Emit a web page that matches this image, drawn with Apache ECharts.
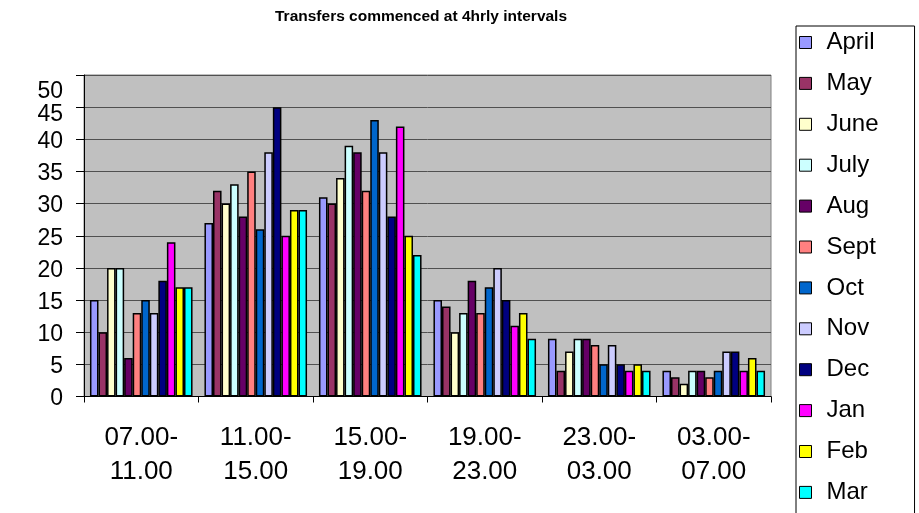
<!DOCTYPE html>
<html>
<head>
<meta charset="utf-8">
<title>Transfers commenced at 4hrly intervals</title>
<script src="https://cdn.jsdelivr.net/npm/echarts@6/dist/echarts.min.js"></script>
<style>
  html, body { margin: 0; padding: 0; background: #fff; }
  #chart { width: 919px; height: 513px; }
</style>
</head>
<body>
<div id="chart"></div>
<script>
// Four-hour intervals in which transfers commenced
const intervals = ['07.00-11.00', '11.00-15.00', '15.00-19.00', '19.00-23.00', '23.00-03.00', '03.00-07.00'];

// Month names shown in the legend
const months = ['April', 'May', 'June', 'July', 'Aug', 'Sept', 'Oct', 'Nov', 'Dec', 'Jan', 'Feb', 'Mar'];

// Transfers per interval, one array per month
const april = [15, 27, 31, 15, 9, 4];
const may   = [10, 32, 30, 14, 4, 3];
const june  = [20, 30, 34, 10, 7, 2];
const july  = [20, 33, 39, 13, 9, 4];
const aug   = [6, 28, 38, 18, 9, 4];
const sept  = [13, 35, 32, 13, 8, 3];
const oct   = [15, 26, 43, 17, 5, 4];
const nov   = [13, 38, 38, 20, 8, 7];
const dec   = [18, 45, 28, 15, 5, 7];
const jan   = [24, 25, 42, 11, 4, 4];
const feb   = [17, 29, 25, 13, 5, 6];
const mar   = [17, 29, 22, 9, 4, 4];

const monthValues = [april, may, june, july, aug, sept, oct, nov, dec, jan, feb, mar];

// Y axis tick values
const yTicks = [0, 5, 10, 15, 20, 25, 30, 35, 40, 45, 50];

const palette = ['#9999FF', '#993366', '#FFFFCC', '#CCFFFF', '#660066', '#FF8080',
                 '#0066CC', '#CCCCFF', '#000080', '#FF00FF', '#FFFF00', '#00FFFF'];

const FONT = '"Liberation Sans", Arial, sans-serif';

const chart = echarts.init(document.getElementById('chart'), null, { renderer: 'canvas' });

const series = months.map((name, i) => ({
  name: name,
  type: 'bar',
  data: monthValues[i],
  barGap: '0%',
  barCategoryGap: '10.4%',
  itemStyle: { color: palette[i], borderColor: '#000', borderWidth: 1.5 },
  emphasis: { disabled: true }
}));

chart.setOption({
  animation: false,
  backgroundColor: '#ffffff',
  title: {
    text: 'Transfers commenced at 4hrly intervals',
    left: 270,
    top: 4,
    textStyle: { fontFamily: FONT, fontWeight: 'bold', fontSize: 15.5, color: '#000' }
  },
  legend: {
    orient: 'vertical',
    left: 796,
    top: 26,
    height: 560,
    padding: [4.5, 36, 40, 3],
    itemGap: 16.9,
    itemWidth: 12,
    itemHeight: 12,
    icon: 'rect',
    borderColor: '#000',
    borderWidth: 1,
    backgroundColor: '#fff',
    selectedMode: false,
    itemStyle: { borderColor: '#000', borderWidth: 1 },
    textStyle: { fontFamily: FONT, fontSize: 24, lineHeight: 24, color: '#000', padding: [0, 0, 0, 10] },
    data: months
  },
  grid: {
    left: 84,
    top: 75,
    right: 148,
    bottom: 116.5,
    show: true,
    backgroundColor: '#C0C0C0',
    borderColor: '#808080',
    borderWidth: 1
  },
  xAxis: {
    type: 'category',
    data: intervals,
    axisLine: { show: true, lineStyle: { color: '#000', width: 1 } },
    axisTick: { show: true, length: 6, lineStyle: { color: '#000' } },
    axisLabel: {
      margin: 24.5,
      fontFamily: FONT,
      fontSize: 26,
      lineHeight: 34,
      color: '#000',
      interval: 0,
      formatter: v => v.replace('-', '-\n')
    },
    splitLine: { show: false }
  },
  yAxis: {
    type: 'value',
    min: 0,
    max: 50,
    interval: 5,
    axisLine: { show: true, lineStyle: { color: '#000', width: 1 } },
    axisTick: { show: true, length: 8, lineStyle: { color: '#000' } },
    splitLine: { show: true, lineStyle: { color: '#505050', width: 1 } },
    axisLabel: {
      margin: 21,
      color: '#000',
      fontFamily: FONT,
      fontSize: 23,
      formatter: v => {
        if (v === yTicks[10]) return '{top|' + v + '}';
        if (v === yTicks[9]) return '{next|' + v + '}';
        return '{n|' + v + '}';
      },
      rich: {
        top:  { fontFamily: FONT, fontSize: 23, color: '#000', padding: [34, 0, 0, 0] },
        next: { fontFamily: FONT, fontSize: 23, color: '#000', padding: [16, 0, 0, 0] },
        n:    { fontFamily: FONT, fontSize: 23, color: '#000', padding: [5, 0, 0, 0] }
      }
    }
  },
  series: series
});
</script>
</body>
</html>
